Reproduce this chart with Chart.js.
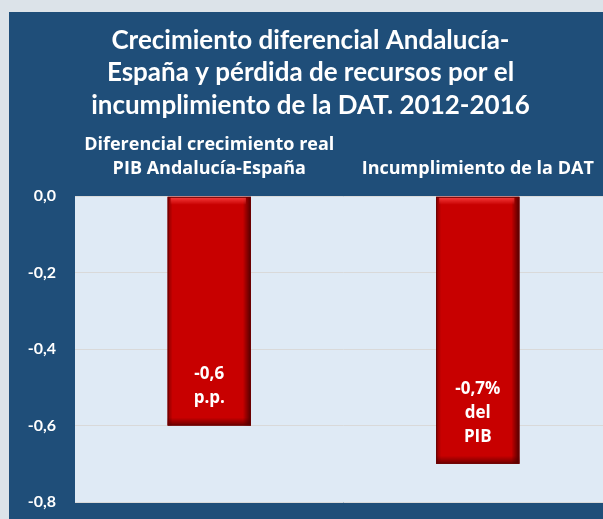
<!DOCTYPE html>
<html>
<head>
<meta charset="utf-8">
<script src="https://cdn.jsdelivr.net/npm/chart.js@4"></script>
<style>
    html, body { margin: 0; padding: 0; overflow: hidden; background: #dce3e9; }
    body { width: 603px; height: 519px; position: relative; }
    #panel { position: absolute; left: 9px; top: 12px; width: 603px; height: 507px; background: #1f4e79; }
    #chart { display: block; }
</style>
</head>
<body>
<div id="panel"><canvas id="chart" width="603" height="507"></canvas></div>
<script>
const titleLines = [
    'Crecimiento diferencial Andalucía-',
    'España y pérdida de recursos por el',
    'incumplimiento de la DAT. 2012-2016'
];
const categories = [
    ['Diferencial crecimiento real', 'PIB Andalucía-España'],
    'Incumplimiento de la DAT'
];
const values = [-0.6, -0.7];
const barLabels = [
    ['-0,6', 'p.p.'],
    ['-0,7%', 'del', 'PIB']
];
const yTicks = [0, -0.2, -0.4, -0.6, -0.8];

const FONT = "Lato, 'Open Sans', sans-serif";
const FONT2 = "'Open Sans', Lato, sans-serif";

// light blue plot area behind the bars
const plotBackground = {
    id: 'plotBackground',
    beforeDraw: (chart) => {
        const { ctx, chartArea: a } = chart;
        ctx.save();
        ctx.fillStyle = '#dfeaf5';
        ctx.fillRect(a.left, a.top, a.right - a.left, a.bottom - a.top);
        ctx.restore();
    }
};

// bevel look on the bars + text labels near the bar end
const barDecor = {
    id: 'barDecor',
    afterDatasetsDraw: (chart) => {
        const { ctx } = chart;
        const meta = chart.getDatasetMeta(0);
        meta.data.forEach((bar, i) => {
            const left = bar.x - bar.width / 2;
            const right = bar.x + bar.width / 2;
            const top = Math.min(bar.y, bar.base);
            const bottom = Math.max(bar.y, bar.base);
            ctx.save();
            let g = ctx.createLinearGradient(right - 8, 0, right, 0);
            g.addColorStop(0, 'rgba(60,0,0,0)');
            g.addColorStop(1, 'rgba(60,0,0,0.85)');
            ctx.fillStyle = g;
            ctx.fillRect(right - 8, top, 8, bottom - top);
            g = ctx.createLinearGradient(left, 0, left + 5, 0);
            g.addColorStop(0, 'rgba(90,0,0,0.6)');
            g.addColorStop(1, 'rgba(90,0,0,0)');
            ctx.fillStyle = g;
            ctx.fillRect(left, top, 5, bottom - top);
            g = ctx.createLinearGradient(0, top, 0, top + 8);
            g.addColorStop(0, 'rgba(255,70,70,0.9)');
            g.addColorStop(1, 'rgba(255,70,70,0)');
            ctx.fillStyle = g;
            ctx.fillRect(left + 3, top, bar.width - 8, 8);
            g = ctx.createLinearGradient(0, bottom - 8, 0, bottom);
            g.addColorStop(0, 'rgba(70,0,0,0)');
            g.addColorStop(1, 'rgba(70,0,0,0.7)');
            ctx.fillStyle = g;
            ctx.fillRect(left, bottom - 8, bar.width, 8);
            ctx.strokeStyle = '#6b0000';
            ctx.lineWidth = 1;
            ctx.strokeRect(left + 0.5, top + 0.5, bar.width - 1, bottom - top - 1);

            const lines = barLabels[i];
            ctx.fillStyle = '#ffffff';
            ctx.font = `bold 17px ${FONT2}`;
            ctx.textAlign = 'center';
            ctx.textBaseline = 'middle';
            const lh = 24;
            lines.forEach((t, k) => {
                ctx.fillText(t, bar.x, bottom - 27 - (lines.length - 1 - k) * lh);
            });
            ctx.restore();
        });
    }
};

new Chart(document.getElementById('chart'), {
    type: 'bar',
    data: {
        labels: categories,
        datasets: [{
            data: values,
            backgroundColor: '#c80000',
            borderWidth: 0,
            barPercentage: 0.31,
            categoryPercentage: 1
        }]
    },
    options: {
        responsive: false,
        animation: false,
        layout: { padding: { left: 0, right: 0, top: 0, bottom: 17 } },
        plugins: {
            legend: { display: false },
            tooltip: { enabled: false },
            title: {
                display: true,
                text: titleLines,
                color: '#ffffff',
                font: { family: FONT, size: 26, weight: 'bold', lineHeight: 1.25 },
                padding: { top: 12, bottom: 11 }
            }
        },
        scales: {
            x: {
                position: 'top',
                grid: { display: false, drawTicks: false },
                border: { display: false },
                afterFit: (axis) => { axis.height = axis.height - 15; },
                ticks: {
                    color: '#ffffff',
                    font: { family: FONT2, size: 18, weight: 'bold', lineHeight: 1.3 },
                    padding: 16,
                    maxRotation: 0,
                    autoSkip: false
                }
            },
            y: {
                min: -0.8,
                max: 0,
                afterBuildTicks: (axis) => { axis.ticks = yTicks.map(v => ({ value: v })); },
                afterFit: (axis) => { axis.width = 66; },
                grid: { color: '#d9d9d9', drawTicks: true, tickLength: 16, tickColor: 'rgba(0,0,0,0)' },
                border: { display: false },
                ticks: {
                    color: '#ffffff',
                    font: { family: FONT, size: 16, weight: 'bold' },
                    padding: 3,
                    callback: (v) => Number(v).toFixed(1).replace('.', ',')
                }
            }
        }
    },
    plugins: [plotBackground, barDecor]
});
</script>
</body>
</html>
